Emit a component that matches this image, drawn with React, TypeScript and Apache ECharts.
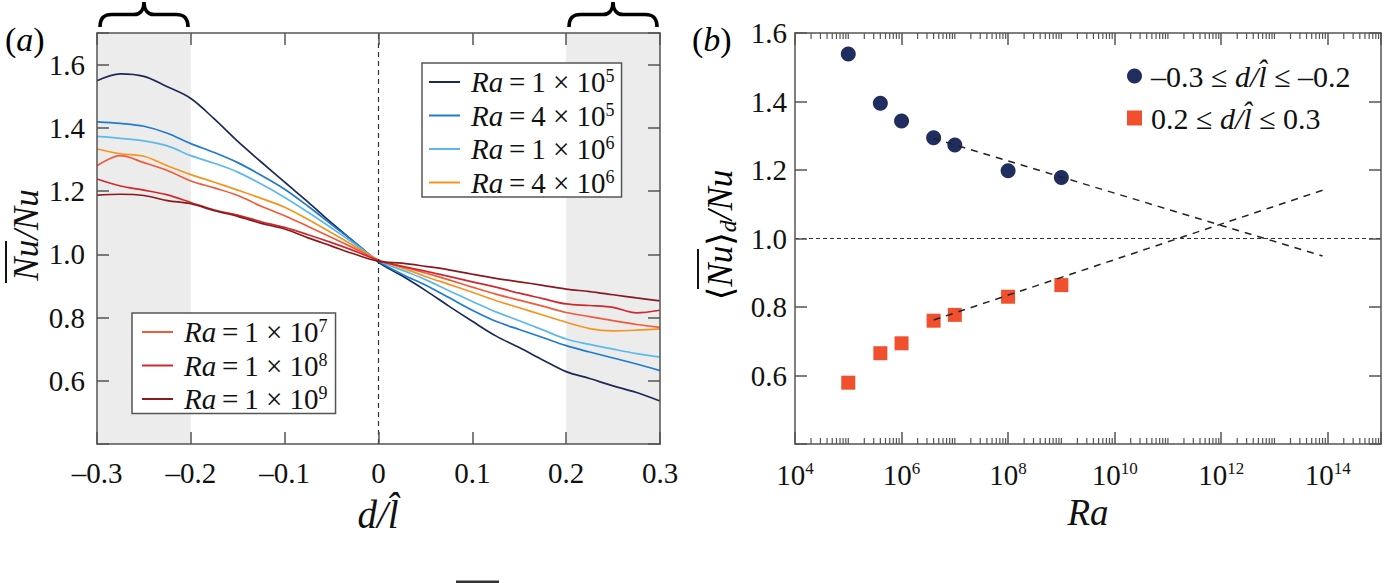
import React, { useEffect, useRef } from "react";
import * as echarts from "echarts";

const SERIF = "'Liberation Serif', 'DejaVu Serif', serif";

// ---------- panel (a) data ----------
const dPos = [-0.3, -0.275, -0.25, -0.225, -0.2, -0.175, -0.15, -0.125, -0.1, -0.075, -0.05, -0.025, 0, 0.025, 0.05, 0.075, 0.1, 0.125, 0.15, 0.175, 0.2, 0.225, 0.25, 0.275, 0.3];
const nuRa1e5 = [1.549, 1.571, 1.563, 1.53, 1.493, 1.428, 1.357, 1.292, 1.228, 1.165, 1.099, 1.037, 0.975, 0.932, 0.886, 0.836, 0.788, 0.742, 0.705, 0.666, 0.629, 0.607, 0.584, 0.563, 0.536];
const nuRa4e5 = [1.419, 1.414, 1.405, 1.383, 1.35, 1.322, 1.29, 1.25, 1.206, 1.152, 1.094, 1.037, 0.978, 0.937, 0.903, 0.863, 0.823, 0.788, 0.762, 0.737, 0.711, 0.691, 0.672, 0.653, 0.632];
const nuRa1e6 = [1.373, 1.367, 1.359, 1.343, 1.312, 1.288, 1.26, 1.222, 1.18, 1.133, 1.083, 1.032, 0.98, 0.95, 0.92, 0.885, 0.851, 0.818, 0.79, 0.761, 0.732, 0.715, 0.7, 0.686, 0.675];
const nuRa4e6 = [1.333, 1.318, 1.31, 1.28, 1.252, 1.228, 1.203, 1.177, 1.149, 1.11, 1.068, 1.025, 0.982, 0.957, 0.93, 0.905, 0.88, 0.854, 0.831, 0.808, 0.785, 0.765, 0.758, 0.76, 0.764];
const nuRa1e7 = [1.28, 1.312, 1.29, 1.265, 1.232, 1.21, 1.186, 1.152, 1.122, 1.088, 1.053, 1.018, 0.982, 0.962, 0.941, 0.919, 0.896, 0.874, 0.855, 0.836, 0.816, 0.803, 0.79, 0.778, 0.769];
const nuRa1e8 = [1.238, 1.216, 1.203, 1.188, 1.164, 1.14, 1.124, 1.103, 1.085, 1.062, 1.037, 1.01, 0.98, 0.962, 0.947, 0.93, 0.913, 0.896, 0.877, 0.86, 0.843, 0.838, 0.832, 0.815, 0.823];
const nuRa1e9 = [1.187, 1.19, 1.186, 1.17, 1.16, 1.138, 1.12, 1.098, 1.08, 1.052, 1.026, 1.0, 0.978, 0.972, 0.962, 0.951, 0.937, 0.924, 0.913, 0.902, 0.89, 0.882, 0.872, 0.862, 0.853];
const curvesA = [nuRa1e5, nuRa4e5, nuRa1e6, nuRa4e6, nuRa1e7, nuRa1e8, nuRa1e9];
const raMantissa = ["1", "4", "1", "4", "1", "1", "1"];
const raExponent = ["5", "5", "6", "6", "7", "8", "9"];
const curveNames = raMantissa.map((m, i) => `Ra = ${m} × 10^${raExponent[i]}`);
const curveColors = ["#1c2a5a", "#1f7bd0", "#5db9ec", "#f7941e", "#f15a3a", "#d02a2e", "#8b1a1e"];
const shadeBands = [[-0.3, -0.2], [0.2, 0.3]];

// ---------- panel (b) data ----------
const raB = [1e5, 4e5, 1e6, 4e6, 1e7, 1e8, 1e9];
const nuNeg = [1.539, 1.395, 1.343, 1.294, 1.273, 1.198, 1.178];
const nuPos = [0.579, 0.665, 0.694, 0.76, 0.777, 0.83, 0.864];
const fitNegRa = [4e6, 8e13];
const fitNegNu = [1.292, 0.949];
const fitPosRa = [4e6, 1e14];
const fitPosNu = [0.762, 1.146];
const negName = "−0.3 ≤ d/l̂ ≤ −0.2";
const posName = "0.2 ≤ d/l̂ ≤ 0.3";

const BRACE_D = "M0 26 C0 17 4 13.5 12 13.5 L34 13.5 C40 13.5 44 9 44 1 C44 9 48 13.5 54 13.5 L76 13.5 C84 13.5 88 17 88 26";

const AX = "#555";
const FS = 29;

function fmtD(v: number) {
  const r = Math.round(v * 10) / 10;
  if (r === 0) return "0";
  return (r < 0 ? "–" : "") + Math.abs(r).toFixed(1);
}
function fmtY(v: number) {
  const r = Math.round(v * 10) / 10;
  if (r < 0.55 || r > 1.65) return "";
  return r.toFixed(1);
}

function axisBase(extra: any) {
  return {
    type: "value",
    z: 5,
    splitLine: { show: false },
    axisLine: { onZero: false, lineStyle: { color: AX, width: 1.5 } },
    axisTick: { inside: true, length: 12, lineStyle: { color: AX, width: 1.5 } },
    ...extra,
  };
}

const labelFont = { color: "#111", fontFamily: SERIF, fontSize: FS };

function buildOption() {
  const mkRich = (fs: number) => ({
    i0: { fontFamily: SERIF, fontSize: fs, fontStyle: "italic", color: "#111", lineHeight: 30, padding: [0, 0, 0, 6] },
    i: { fontFamily: SERIF, fontSize: fs, fontStyle: "italic", color: "#111", lineHeight: 30 },
    n0: { fontFamily: SERIF, fontSize: fs, color: "#111", lineHeight: 30, padding: [0, 0, 0, 4] },
    n: { fontFamily: SERIF, fontSize: fs, color: "#111", lineHeight: 30 },
    s: { fontFamily: SERIF, fontSize: 18, color: "#111", lineHeight: 20, verticalAlign: "top" },
  });
  const legRich = mkRich(FS);
  const legRichB = mkRich(30);
  const curveLegendText = (name: string) => {
    const i = curveNames.indexOf(name);
    return `{i0|Ra}{n|\u2009=\u2009${raMantissa[i]} × 10}{s|${raExponent[i]}}`;
  };

  const minorExps: number[] = [];
  for (let n = 4; n < 15; n++) {
    for (let k = 1; k < 10; k++) {
      if (k === 1 && n % 2 === 0) continue;
      minorExps.push(n + Math.log10(k));
    }
  }

  const series: any[] = [];
  series.push({
    type: "line",
    name: "_bands",
    xAxisIndex: 0,
    yAxisIndex: 0,
    data: [[0, 1]],
    showSymbol: false,
    symbol: "none",
    lineStyle: { opacity: 0 },
    silent: true,
    z: 1,
    markArea: {
      silent: true,
      itemStyle: { color: "#ececec" },
      data: shadeBands.map(([a, b]) => [{ xAxis: a }, { xAxis: b }]),
    },
    markLine: {
      silent: true,
      symbol: "none",
      label: { show: false },
      lineStyle: { color: "#333", width: 1.2, type: [5, 4] },
      data: [{ xAxis: 0 }],
    },
  });
  curvesA.forEach((arr, ci) => {
    series.push({
      type: "line",
      name: curveNames[ci],
      xAxisIndex: 0,
      yAxisIndex: 0,
      data: dPos.map((d, i) => [d, arr[i]]),
      symbol: "none",
      smooth: 0.35,
      silent: true,
      z: 3,
      lineStyle: { color: curveColors[ci], width: 1.7 },
      itemStyle: { color: curveColors[ci] },
    });
  });

  series.push({
    type: "scatter",
    name: negName,
    xAxisIndex: 2,
    yAxisIndex: 2,
    data: raB.map((r, i) => [Math.log10(r), nuNeg[i]]),
    symbol: "circle",
    symbolSize: 15,
    itemStyle: { color: "#1f2d5f", opacity: 1 },
    silent: true,
    z: 2,
    markLine: {
      silent: true,
      symbol: "none",
      label: { show: false },
      lineStyle: { color: "#333", width: 1.1, type: [4, 3] },
      data: [{ yAxis: 1 }],
    },
  });
  series.push({
    type: "scatter",
    name: posName,
    xAxisIndex: 2,
    yAxisIndex: 2,
    data: raB.map((r, i) => [Math.log10(r), nuPos[i]]),
    symbol: "rect",
    symbolSize: 14,
    itemStyle: { color: "#f1502f", opacity: 1 },
    silent: true,
    z: 2,
  });
  series.push({
    type: "line",
    name: "_fitNeg",
    xAxisIndex: 2,
    yAxisIndex: 2,
    data: fitNegRa.map((r, i) => [Math.log10(r), fitNegNu[i]]),
    symbol: "none",
    silent: true,
    z: 4,
    lineStyle: { color: "#222", width: 1.5, type: [7, 6] },
  });
  series.push({
    type: "line",
    name: "_fitPos",
    xAxisIndex: 2,
    yAxisIndex: 2,
    data: fitPosRa.map((r, i) => [Math.log10(r), fitPosNu[i]]),
    symbol: "none",
    silent: true,
    z: 4,
    lineStyle: { color: "#222", width: 1.5, type: [7, 6] },
  });
  series.push({
    type: "custom",
    name: "_minorTicks",
    xAxisIndex: 2,
    yAxisIndex: 2,
    silent: true,
    z: 6,
    data: minorExps.map((e) => [e, 1]),
    renderItem: (params: any, api: any) => {
      const x = api.value(0);
      const pb = api.coord([x, 0.4]);
      const pt = api.coord([x, 1.6]);
      const st = { stroke: AX, lineWidth: 1.2 };
      return {
        type: "group",
        children: [
          { type: "line", shape: { x1: pb[0], y1: pb[1], x2: pb[0], y2: pb[1] - 6 }, style: st },
          { type: "line", shape: { x1: pt[0], y1: pt[1], x2: pt[0], y2: pt[1] + 6 }, style: st },
        ],
      };
    },
  });

  const expRich = {
    b: { fontFamily: SERIF, fontSize: FS, color: "#111", lineHeight: 30 },
    s: { fontFamily: SERIF, fontSize: 17, color: "#111", lineHeight: 8, verticalAlign: "top" },
  };

  const lineLegend = (names: string[], left: number, top: number, pad: number[]) => ({
    data: names.map((n) => ({ name: n, icon: "rect" })),
    orient: "vertical",
    left,
    top,
    itemWidth: 31,
    itemHeight: 2,
    itemGap: 4,
    padding: pad,
    backgroundColor: "#fff",
    borderColor: AX,
    borderWidth: 1.5,
    borderRadius: 0,
    selectedMode: false,
    formatter: curveLegendText,
    textStyle: { rich: legRich, fontFamily: SERIF, fontSize: FS, color: "#111" },
  });

  return {
    animation: false,
    backgroundColor: "#ffffff",
    grid: [
      { left: 97, top: 33, width: 563, height: 411, outerBoundsMode: "none" },
      { left: 795, top: 33, width: 586, height: 411, outerBoundsMode: "none" },
    ],
    xAxis: [
      axisBase({ gridIndex: 0, position: "bottom", min: -0.3, max: 0.3, interval: 0.1, axisLabel: { ...labelFont, margin: 14, formatter: fmtD } }),
      axisBase({ gridIndex: 0, position: "top", min: -0.3, max: 0.3, interval: 0.1, axisLabel: { show: false } }),
      axisBase({
        gridIndex: 1,
        position: "bottom",
        min: 4,
        max: 15,
        interval: 2,
        axisLabel: {
          margin: 16,
          formatter: (v: number) => (v > 14.5 ? "" : `{b|10}{s|${Math.round(v)}}`),
          rich: expRich,
        },
      }),
      axisBase({ gridIndex: 1, position: "top", min: 4, max: 15, interval: 2, axisLabel: { show: false } }),
    ],
    yAxis: [
      axisBase({ gridIndex: 0, position: "left", min: 0.4, max: 1.7, interval: 0.2, axisLabel: { ...labelFont, margin: 12, formatter: fmtY } }),
      axisBase({ gridIndex: 0, position: "right", min: 0.4, max: 1.7, interval: 0.2, axisLabel: { show: false } }),
      axisBase({ gridIndex: 1, position: "left", min: 0.4, max: 1.6, interval: 0.2, axisLabel: { ...labelFont, margin: 8, formatter: fmtY } }),
      axisBase({ gridIndex: 1, position: "right", min: 0.4, max: 1.6, interval: 0.2, axisLabel: { show: false } }),
    ],
    legend: [
      lineLegend(curveNames.slice(0, 4), 422, 63, [4, 7, 0, 7]),
      lineLegend(curveNames.slice(4), 132, 313, [4, 8, 0, 10]),
      {
        data: [negName, posName],
        orient: "vertical",
        left: 1127,
        top: 61,
        itemWidth: 15,
        itemHeight: 15,
        itemGap: 12,
        padding: 0,
        selectedMode: false,
        formatter: (name: string) =>
          name === negName
            ? "{n0|–0.3 ≤ }{i|d/l\u0302}{n| ≤ –0.2}"
            : "{n0|0.2 ≤ }{i|d/l\u0302}{n| ≤ 0.3}",
        textStyle: { rich: legRichB, fontFamily: SERIF, fontSize: 30, color: "#111" },
      },
    ],
    graphic: [
      { type: "brace", x: 100, y: 1, silent: true, style: { fill: "none", stroke: "#000", lineWidth: 3.6 } },
      { type: "brace", x: 569, y: 1, silent: true, style: { fill: "none", stroke: "#000", lineWidth: 3.6 } },
      {
        type: "text",
        x: 5,
        y: 39,
        silent: true,
        style: {
          text: "{n|(}{i|a}{n|)}",
          align: "left",
          verticalAlign: "middle",
          rich: {
            n: { fontFamily: SERIF, fontSize: 34, color: "#111" },
            i: { fontFamily: SERIF, fontSize: 34, fontStyle: "italic", color: "#111" },
          },
        },
      },
      {
        type: "text",
        x: 692,
        y: 39,
        silent: true,
        style: {
          text: "{n|(}{i|b}{n|)}",
          align: "left",
          verticalAlign: "middle",
          rich: {
            n: { fontFamily: SERIF, fontSize: 34, color: "#111" },
            i: { fontFamily: SERIF, fontSize: 34, fontStyle: "italic", color: "#111" },
          },
        },
      },
      {
        type: "text",
        x: 378,
        y: 514,
        silent: true,
        style: { text: "d/l\u0302", font: `italic 39px ${SERIF}`, fill: "#111", align: "center", verticalAlign: "middle" },
      },
      {
        type: "text",
        x: 1088,
        y: 512,
        silent: true,
        style: { text: "Ra", font: `italic 37px ${SERIF}`, fill: "#111", align: "center", verticalAlign: "middle" },
      },
      {
        type: "group",
        x: 26,
        y: 235,
        rotation: Math.PI / 2,
        silent: true,
        children: [
          {
            type: "text",
            x: 0,
            y: 0,
            style: { text: "Nu/Nu", font: `italic 35px ${SERIF}`, fill: "#111", align: "center", verticalAlign: "middle" },
          },
          { type: "line", shape: { x1: -48, y1: -20, x2: -6, y2: -20 }, style: { stroke: "#111", lineWidth: 2 } },
        ],
      },
      {
        type: "group",
        x: 720,
        y: 235,
        rotation: Math.PI / 2,
        silent: true,
        children: [
          {
            type: "text",
            x: 0,
            y: 0,
            style: {
              text: "{b|⟨}{i|Nu}{b|⟩}{sub|d}{i|/Nu}",
              align: "center",
              verticalAlign: "middle",
              rich: {
                b: { fontFamily: SERIF, fontSize: 35, color: "#111", lineHeight: 40 },
                i: { fontFamily: SERIF, fontSize: 35, fontStyle: "italic", color: "#111", lineHeight: 40 },
                sub: { fontFamily: SERIF, fontSize: 24, fontStyle: "italic", color: "#111", lineHeight: 24, verticalAlign: "bottom" },
              },
            },
          },
          { type: "line", shape: { x1: -54, y1: -22, x2: -14, y2: -22 }, style: { stroke: "#111", lineWidth: 2 } },
        ],
      },
      { type: "rect", silent: true, shape: { x: 456, y: 580.5, width: 43, height: 2.5 }, style: { fill: "#333" } },
    ],
    series,
  };
}

export default function App() {
  const ref = useRef<HTMLDivElement>(null);
  useEffect(() => {
    if (!ref.current) return;
    echarts.graphic.registerShape("brace", echarts.graphic.extendPath(BRACE_D, {}));
    const chart = echarts.init(ref.current, null, { renderer: "svg" });
    chart.setOption(buildOption() as any);
    return () => chart.dispose();
  }, []);
  return (
    <div
      ref={ref}
      style={{ position: "fixed", left: 0, top: 0, width: 1387, height: 583, background: "#fff" }}
    />
  );
}
